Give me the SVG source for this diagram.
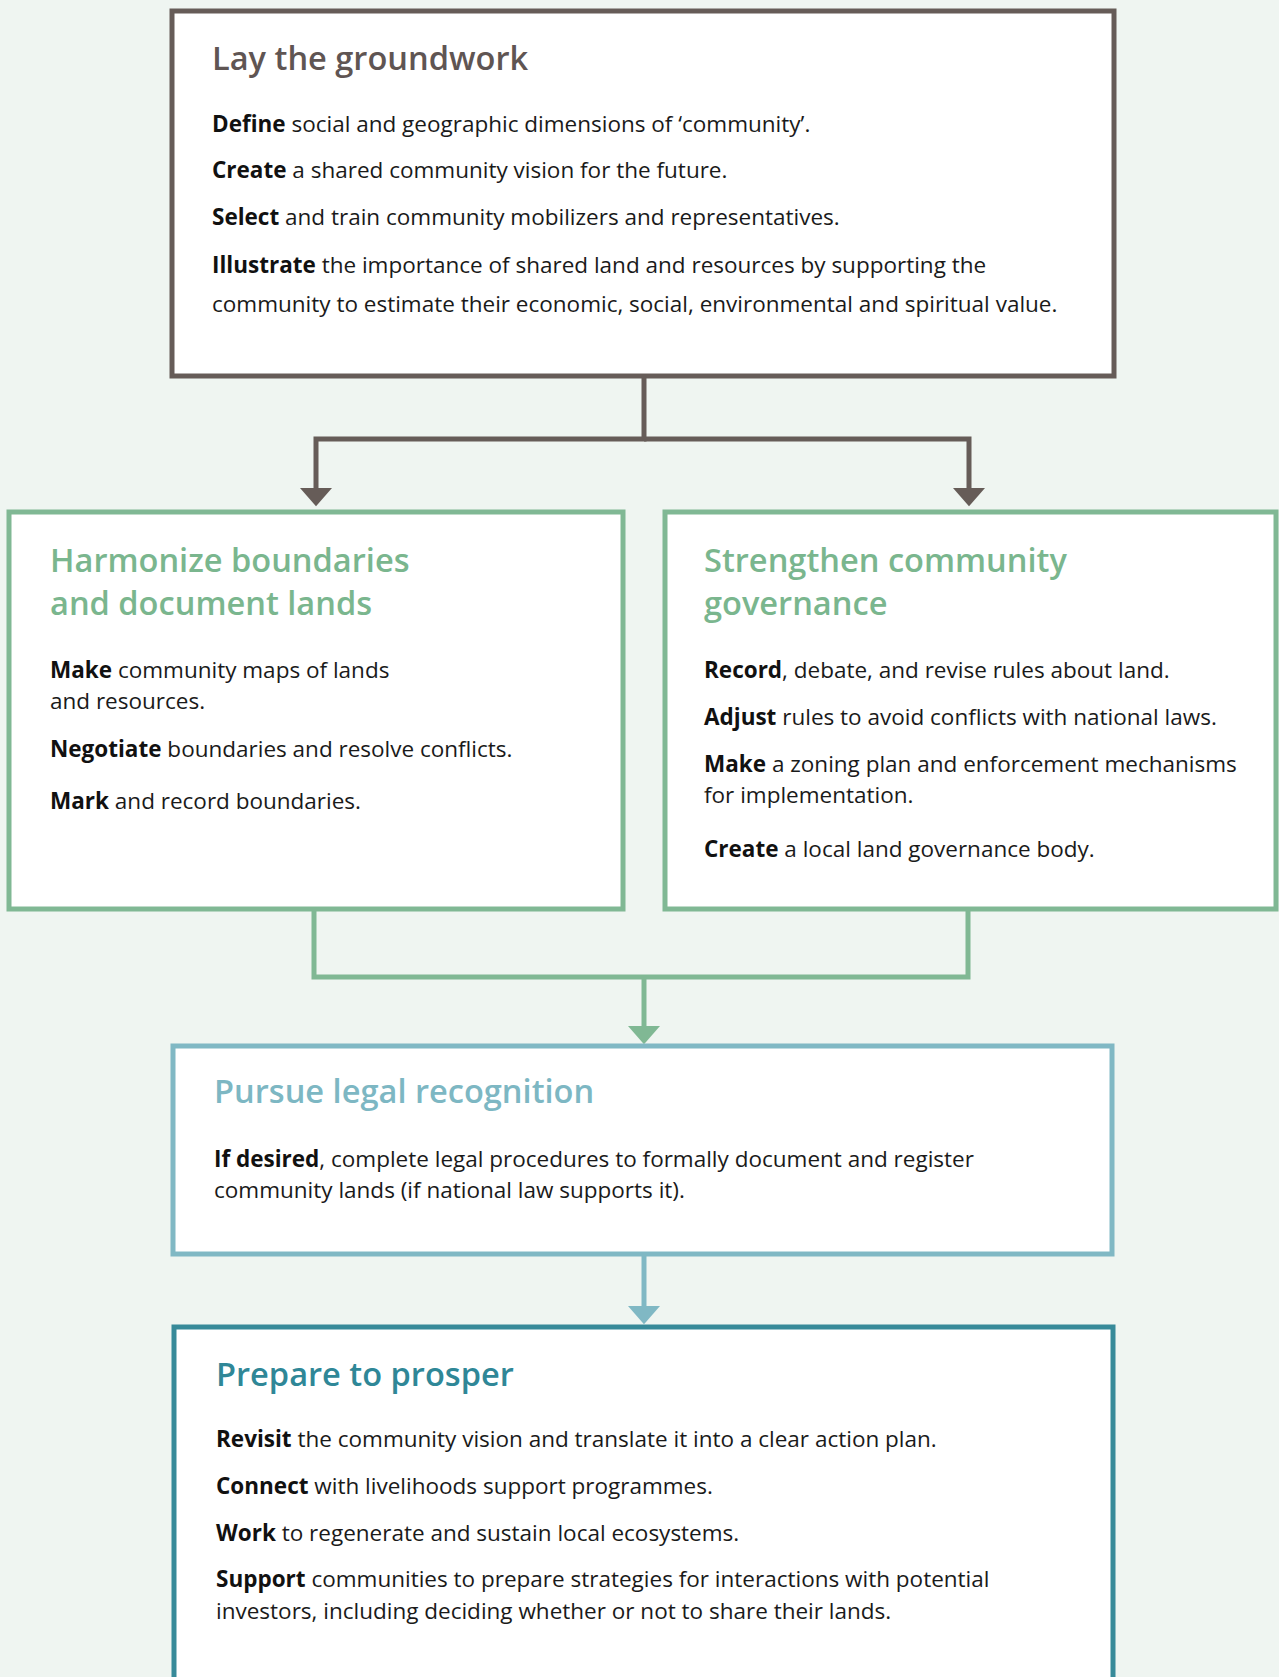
<svg xmlns="http://www.w3.org/2000/svg" width="1279" height="1677" viewBox="0 0 1279 1677">
<defs>
<style>
.box{fill:#ffffff;stroke-width:5}
.t{font-family:"Open Sans","Noto Sans","Liberation Sans",sans-serif;font-size:32.6px;font-weight:600}
.b{font-family:"Open Sans","Noto Sans","Liberation Sans",sans-serif;font-size:22.5px;fill:#1a1a1a}
.b tspan.k{font-weight:700;fill:#111}
.con{fill:none;stroke-width:5;stroke-linejoin:miter;stroke-linecap:butt}
</style>
<marker id="aBrown" markerUnits="userSpaceOnUse" markerWidth="20" markerHeight="32" refX="0" refY="15" orient="auto" viewBox="0 0 18 30"><path d="M0,0 L17,15 L0,30 z" fill="#665c58"/></marker>
<marker id="aGreen" markerUnits="userSpaceOnUse" markerWidth="20" markerHeight="32" refX="0" refY="15" orient="auto" viewBox="0 0 18 30"><path d="M0,0 L17,15 L0,30 z" fill="#80b894"/></marker>
<marker id="aTeal" markerUnits="userSpaceOnUse" markerWidth="20" markerHeight="32" refX="0" refY="15" orient="auto" viewBox="0 0 18 30"><path d="M0,0 L17,15 L0,30 z" fill="#80b8c4"/></marker>
</defs>
<rect x="0" y="0" width="1279" height="1677" fill="#eff5f1"/>

<g id="connectors">
<path class="con" stroke="#665c58" d="M644 378 V439 H316 V488" marker-end="url(#aBrown)"/>
<path class="con" stroke="#665c58" d="M644 439 H969 V488" marker-end="url(#aBrown)"/>
<path class="con" stroke="#80b894" d="M314 910 V977 H968 V910"/>
<path class="con" stroke="#80b894" d="M644 977 V1026" marker-end="url(#aGreen)"/>
<path class="con" stroke="#80b8c4" d="M644 1256 V1306" marker-end="url(#aTeal)"/>
</g>

<g id="node-groundwork">
<rect class="box" x="172" y="11" width="942" height="365" stroke="#665c58"/>
<text class="t" x="212" y="70" fill="#5f5553">Lay the groundwork</text>
<text class="b" x="212" y="132"><tspan class="k">Define</tspan> social and geographic dimensions of ‘community’.</text>
<text class="b" x="212" y="178"><tspan class="k">Create</tspan> a shared community vision for the future.</text>
<text class="b" x="212" y="225"><tspan class="k">Select</tspan> and train community mobilizers and representatives.</text>
<text class="b" x="212" y="273"><tspan class="k">Illustrate</tspan> the importance of shared land and resources by supporting the</text>
<text class="b" x="212" y="312">community to estimate their economic, social, environmental and spiritual value.</text>
</g>

<g id="node-harmonize">
<rect class="box" x="9" y="512" width="614" height="397" stroke="#80b894"/>
<text class="t" x="50" y="572" fill="#7ab68e">Harmonize boundaries</text>
<text class="t" x="50" y="615" fill="#7ab68e">and document lands</text>
<text class="b" x="50" y="678"><tspan class="k">Make</tspan> community maps of lands</text>
<text class="b" x="50" y="709">and resources.</text>
<text class="b" x="50" y="757"><tspan class="k">Negotiate</tspan> boundaries and resolve conflicts.</text>
<text class="b" x="50" y="809"><tspan class="k">Mark</tspan> and record boundaries.</text>
</g>

<g id="node-governance">
<rect class="box" x="665" y="512" width="611" height="397" stroke="#80b894"/>
<text class="t" x="704" y="572" fill="#7ab68e">Strengthen community</text>
<text class="t" x="704" y="615" fill="#7ab68e">governance</text>
<text class="b" x="704" y="678"><tspan class="k">Record</tspan>, debate, and revise rules about land.</text>
<text class="b" x="704" y="725"><tspan class="k">Adjust</tspan> rules to avoid conflicts with national laws.</text>
<text class="b" x="704" y="772"><tspan class="k">Make</tspan> a zoning plan and enforcement mechanisms</text>
<text class="b" x="704" y="803">for implementation.</text>
<text class="b" x="704" y="857"><tspan class="k">Create</tspan> a local land governance body.</text>
</g>

<g id="node-legal">
<rect class="box" x="173" y="1046" width="939" height="208" stroke="#80b8c4"/>
<text class="t" x="214" y="1103" fill="#7db7c3">Pursue legal recognition</text>
<text class="b" x="214" y="1167"><tspan class="k">If desired</tspan>, complete legal procedures to formally document and register</text>
<text class="b" x="214" y="1198">community lands (if national law supports it).</text>
</g>

<g id="node-prosper">
<rect class="box" x="174" y="1327" width="939" height="400" stroke="#378a99"/>
<text class="t" x="216" y="1386" fill="#2f8797">Prepare to prosper</text>
<text class="b" x="216" y="1447"><tspan class="k">Revisit</tspan> the community vision and translate it into a clear action plan.</text>
<text class="b" x="216" y="1494"><tspan class="k">Connect</tspan> with livelihoods support programmes.</text>
<text class="b" x="216" y="1541"><tspan class="k">Work</tspan> to regenerate and sustain local ecosystems.</text>
<text class="b" x="216" y="1587"><tspan class="k">Support</tspan> communities to prepare strategies for interactions with potential</text>
<text class="b" x="216" y="1619">investors, including deciding whether or not to share their lands.</text>
</g>
</svg>
